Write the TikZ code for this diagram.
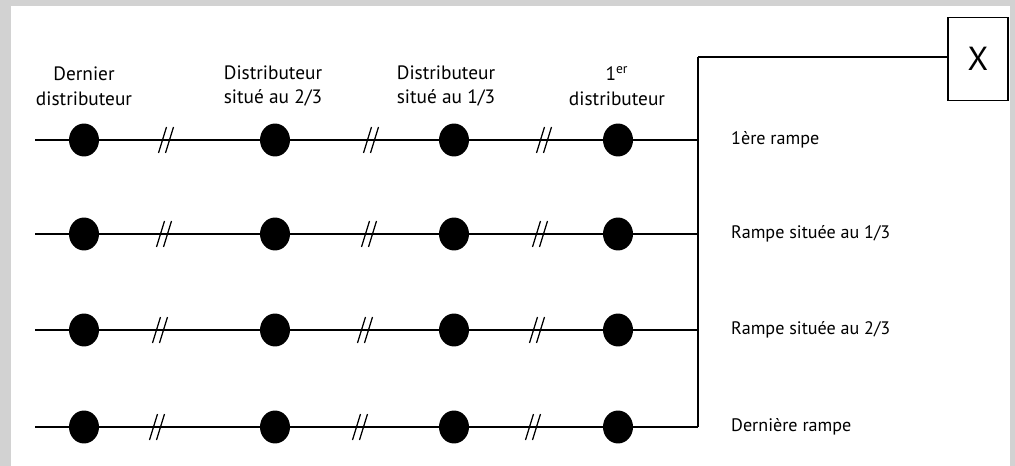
\documentclass[tikz,border=0pt]{standalone}
\usepackage{fontspec}
\setmainfont{PT Sans}
\usetikzlibrary{shapes.geometric}
\begin{document}
\begin{tikzpicture}[x=0.02cm,y=-0.02cm,
  wire/.style={line width=1.1pt},
  dot/.style={ellipse, fill=black, inner sep=0pt, minimum width=0.6cm, minimum height=0.66cm},
  brk/.style={line width=0.7pt},
  head/.style={align=center, font=\fontsize{11}{14}\selectfont},
  rlab/.style={anchor=west, font=\fontsize{10.3}{12}\selectfont},
  xbox/.style={draw, line width=0.9pt, minimum width=1.2cm, minimum height=1.66cm, font=\fontsize{19}{21}\selectfont}]
\useasboundingbox (0,0) rectangle (1015,466);
\fill[gray!35] (0,0) rectangle (1015,466);
\fill[white] (11,6) rectangle (1010,466);
% header labels
\node[head] (h1) at (84,86) {Dernier\\distributeur};
\node[head] (h2) at (273,86) {Distributeur\\situé au 2/3};
\node[head] (h3) at (446,86) {Distributeur\\situé au 1/3};
\node[head] (h4) at (617,86) {1\textsuperscript{er}\\distributeur};
% box X
\node[xbox] (X) at (978,59) {X};
\coordinate (top) at (698,57);
\draw[wire] (top) -- (top -| X.west);
% rows
\foreach \r/\y/\sa/\sb/\sc/\lab in {1/140/166/371/544/{1ère rampe},2/234/164/369/540/{Rampe située au 1/3},3/330/160/365/537/{Rampe située au 2/3},4/427/157/360/533/{Dernière rampe}}{
  \coordinate (s\r) at (35,\y);
  \coordinate (j\r) at (698,\y);
  \draw[wire] (s\r) -- (j\r);
  \node[dot] (d\r a) at (84,\y) {};
  \node[dot] (d\r b) at (275,\y) {};
  \node[dot] (d\r c) at (454,\y) {};
  \node[dot] (d\r d) at (618,\y) {};
  \foreach \sx in {\sa,\sb,\sc}{
    \draw[brk] (\sx-7.5,\y+13) -- (\sx+0.5,\y-13);
    \draw[brk] (\sx-0.5,\y+13) -- (\sx+7.5,\y-13);
  }
  \node[rlab] (l\r) at (725,\y) {\lab};
}
\draw[wire] (top) -- (j4);
\end{tikzpicture}
\end{document}
